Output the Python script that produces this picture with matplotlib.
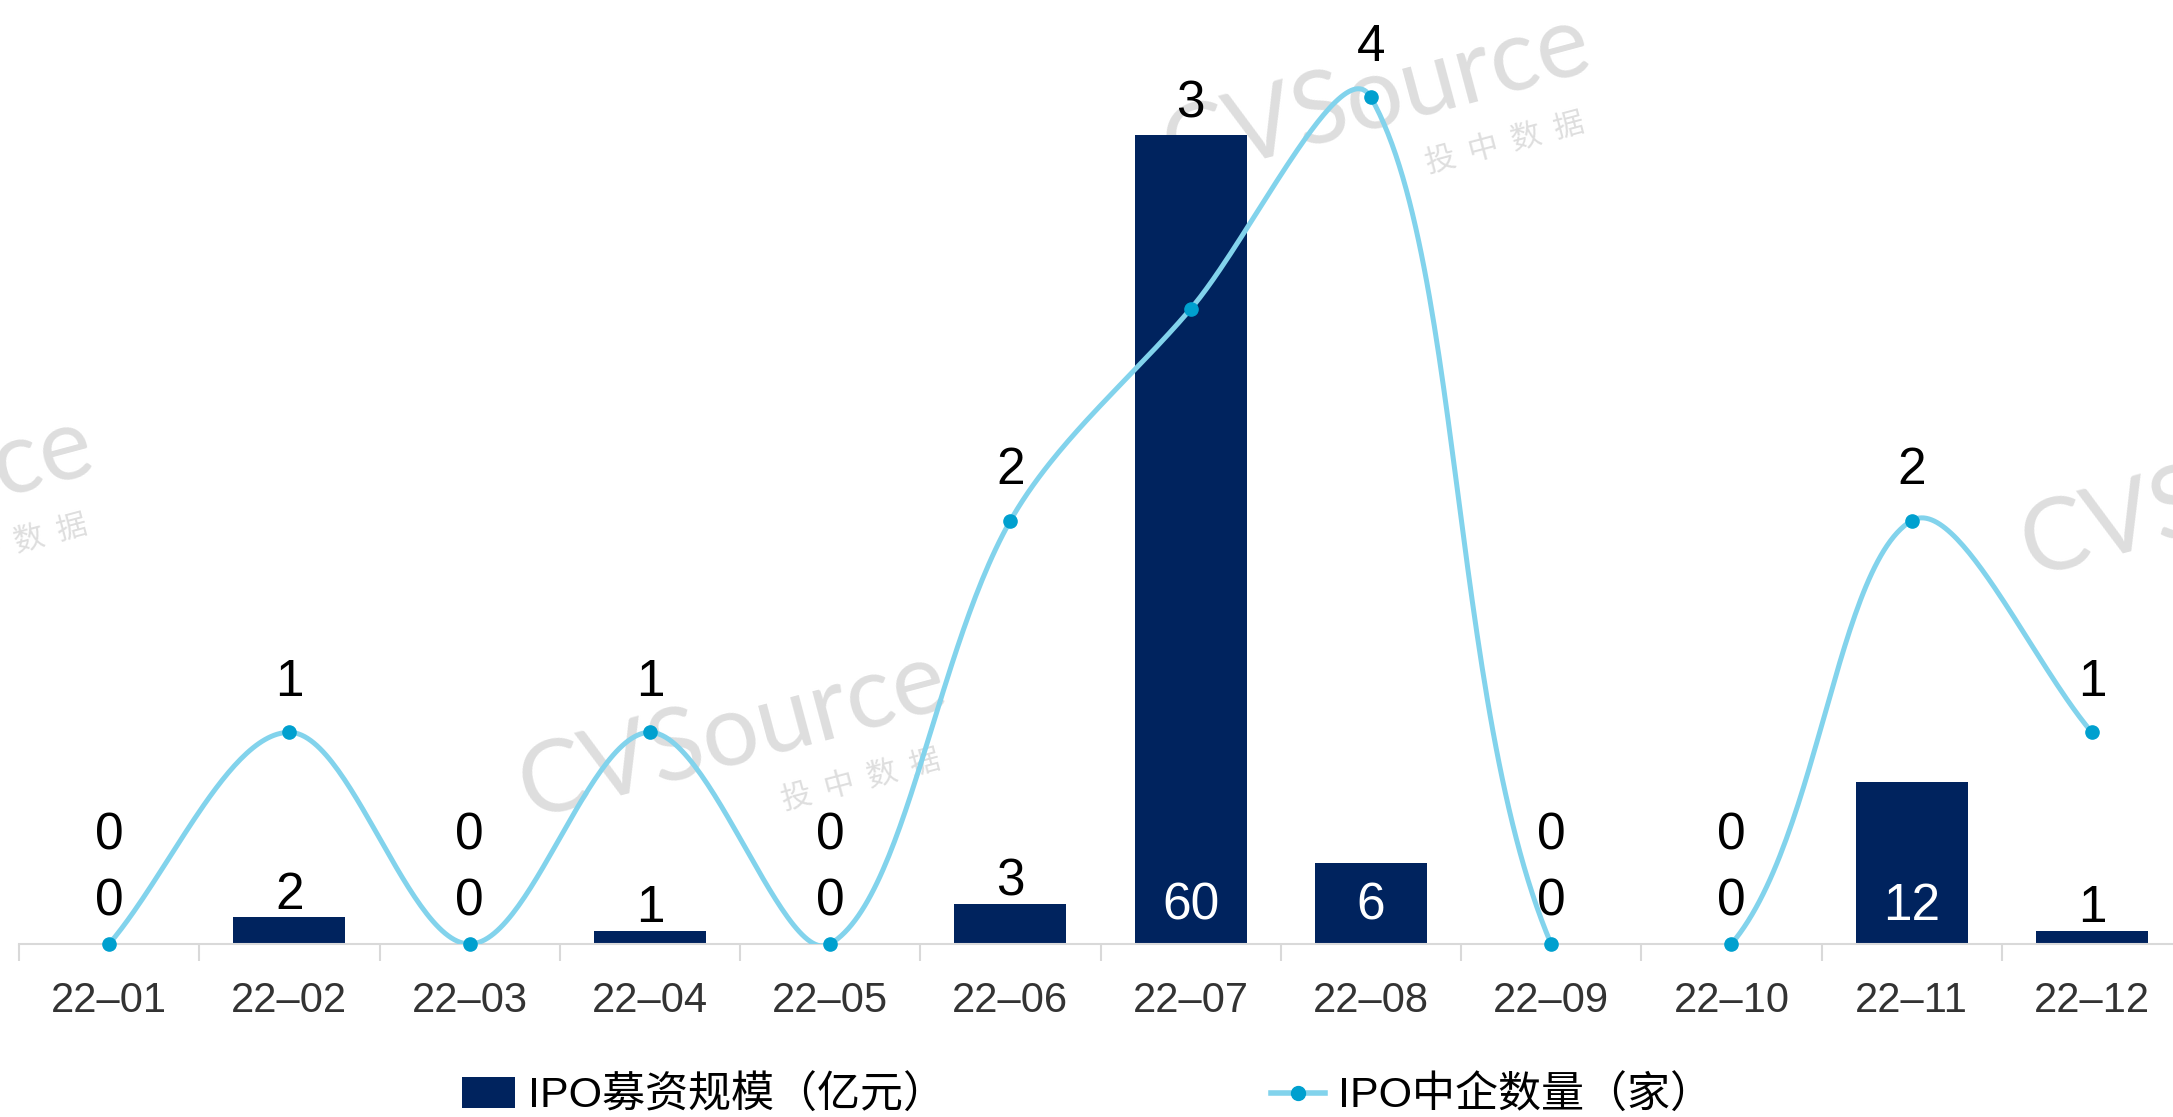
import numpy as np
import matplotlib
matplotlib.use("Agg")
import matplotlib.pyplot as plt
from matplotlib.lines import Line2D
from matplotlib.patches import Patch

plt.rcParams["font.family"] = ["Liberation Sans", "Noto Sans CJK SC", "DejaVu Sans"]

months = ["22–01", "22–02", "22–03", "22–04", "22–05", "22–06",
          "22–07", "22–08", "22–09", "22–10", "22–11", "22–12"]
ipo_amount = [0, 2, 0, 1, 0, 3, 60, 6, 0, 0, 12, 1]      # 亿元
ipo_count = [0, 1, 0, 1, 0, 2, 3, 4, 0, 0, 2, 1]         # 家

bar_color = "#00235e"
line_color = "#82d3ec"
dot_color = "#00a0cf"
axis_gray = "#d9d9d9"
wm_gray = "#dedede"


def smooth_curve(pts, n=60):
    # bezier through every point, tangents weighted by neighbouring segment lengths
    pts = np.asarray(pts, dtype=float)
    p = np.vstack([pts[0], pts, pts[-1]])
    d = np.hypot(*np.diff(p, axis=0).T)
    t = np.linspace(0, 1, n)[:, None]
    segs = []
    for i in range(len(pts) - 1):
        p0, p1, p2, p3 = p[i], p[i + 1], p[i + 2], p[i + 3]
        d0, d1, d2 = d[i], d[i + 1], d[i + 2]
        c1 = p1 + (p2 - p0) * d1 / max(d0 + d1, 1e-9) / 3
        c2 = p2 - (p3 - p1) * d1 / max(d1 + d2, 1e-9) / 3
        segs.append((1 - t) ** 3 * p1 + 3 * (1 - t) ** 2 * t * c1
                    + 3 * (1 - t) * t ** 2 * c2 + t ** 3 * p2)
    return np.vstack(segs)


fig = plt.figure(figsize=(21.73, 11.17), dpi=100)
ax = fig.add_axes([19 / 2173, 173 / 1117, 2163 / 2173, 944 / 1117])
ax2 = ax.twinx()
ax.patch.set_visible(False)
ax2.patch.set_visible(False)

# watermark tiles
marks = [(-121, 499), (732, 734), (1376, 97), (2234, 492)]
for cx, cy in marks:
    fx, fy = cx / 2173, 1 - cy / 1117
    fig.text(fx, fy, "CVSource", fontsize=72, color=wm_gray, rotation=15,
             ha="center", va="center", family=["Lato", "DejaVu Sans"], zorder=-5)
    fig.text(fx + 129 / 2173, fy - 46 / 1117, "投  中  数  据", fontsize=22,
             color=wm_gray, rotation=15, ha="center", va="center",
             family=["Noto Sans CJK SC"], zorder=-5)

x = np.arange(len(months))
ax.bar(x, ipo_amount, width=0.62, color=bar_color, zorder=2)
ax.set_xlim(-0.5, len(months) - 0.5)
ax.set_ylim(0, 70)
ax2.set_ylim(0, 4.46)

# smooth the count line in screen space, then map it back to data
pix = ax2.transData.transform(np.column_stack([x, ipo_count]))
curve = ax2.transData.inverted().transform(smooth_curve(pix))
ax2.plot(curve[:, 0], curve[:, 1], color=line_color, lw=3.6, zorder=3)
ax2.plot(x, ipo_count, ls="none", marker="o", ms=9.5, color=dot_color,
         clip_on=False, zorder=4)

# bar value labels
for xi, v in zip(x, ipo_amount):
    if v >= 5:
        ax.annotate(str(v), (xi, 0), xytext=(0, 38), textcoords="offset pixels",
                    ha="center", va="center", fontsize=37, color="white", zorder=5)
    else:
        off = 22 if v > 0 else 42
        ax.annotate(str(v), (xi, v), xytext=(0, off), textcoords="offset pixels",
                    ha="center", va="center", fontsize=37, color="black", zorder=5)

# line value labels, lifted over a bar when the point sits inside it
ratio = ax2.get_ylim()[1] / ax.get_ylim()[1]
for xi, c, v in zip(x, ipo_count, ipo_amount):
    bar_top = v * ratio
    if v >= 5 and bar_top > c:
        ax2.annotate(str(c), (xi, bar_top), xytext=(0, 31), textcoords="offset pixels",
                     ha="center", va="center", fontsize=37, color="black", zorder=5)
    else:
        off = 50 if c > 0 else 108
        ax2.annotate(str(c), (xi, c), xytext=(0, off), textcoords="offset pixels",
                     ha="center", va="center", fontsize=37, color="black", zorder=5)

for a in (ax, ax2):
    for side in ("top", "left", "right"):
        a.spines[side].set_visible(False)
ax2.spines["bottom"].set_visible(False)
ax.spines["bottom"].set_color(axis_gray)
ax.spines["bottom"].set_linewidth(1.5)
ax.spines["bottom"].set_zorder(6)

ax.set_xticks(x)
ax.set_xticklabels(months, fontsize=30, color="#333333")
ax.set_xticks(np.arange(len(months) + 1) - 0.5, minor=True)
ax.tick_params(axis="x", which="major", length=0, pad=27)
ax.tick_params(axis="x", which="minor", length=12, width=1.5, color=axis_gray)
ax.set_yticks([])
ax2.set_yticks([])

handles = [Patch(facecolor=bar_color, edgecolor="none"),
           Line2D([], [], color=line_color, lw=4, marker="o", ms=10,
                  markerfacecolor=dot_color, markeredgecolor=dot_color)]
fig.legend(handles, ["IPO募资规模（亿元）", "IPO中企数量（家）"],
           loc="center", bbox_to_anchor=(0.5004, 0.0185), ncol=2,
           frameon=False, fontsize=31, handlelength=1.25, handleheight=0.72,
           handletextpad=0.3, columnspacing=7.55, borderpad=0)

fig.savefig("out.png", dpi=100)
